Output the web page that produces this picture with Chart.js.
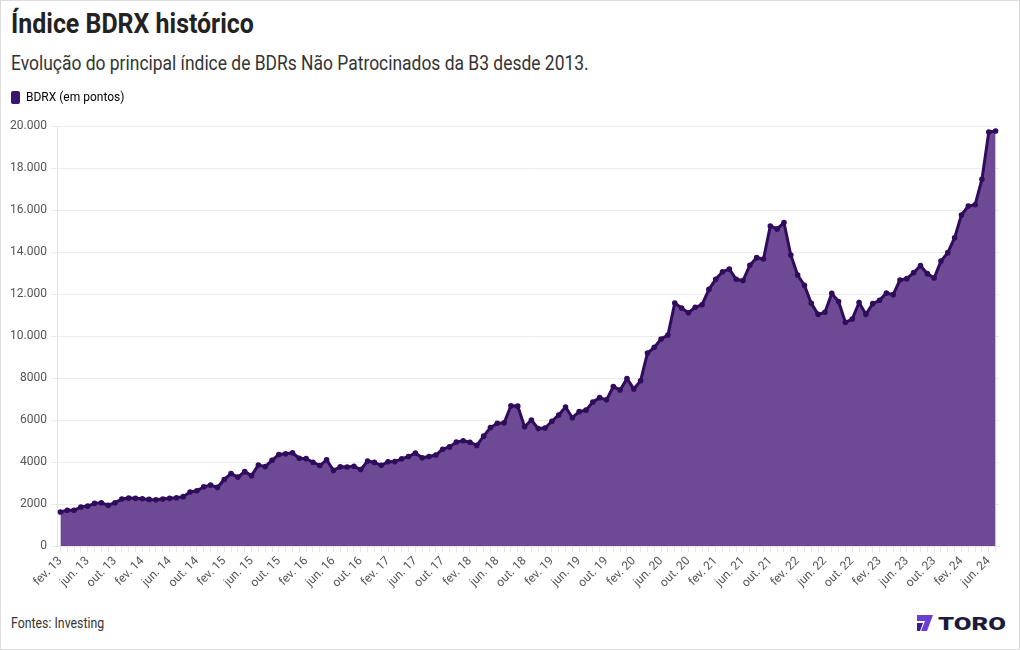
<!DOCTYPE html>
<html lang="pt-BR">
<head>
<meta charset="utf-8">
<title>Índice BDRX histórico</title>
<script src="https://cdn.jsdelivr.net/npm/chart.js@4.4.1/dist/chart.umd.min.js"></script>
<style>
  html, body { margin: 0; padding: 0; background: #fff; }
  #frame {
    position: relative; width: 1018px; height: 648px;
    border: 1px solid #dcdcdc; background: #fff; overflow: hidden;
    font-family: Roboto, "Noto Sans", sans-serif;
  }
  #title {
    position: absolute; left: 10px; top: 6px; margin: 0;
    font-size: 28px; font-weight: 700; color: #222;
    transform: scaleX(0.89); transform-origin: left top; white-space: nowrap;
  }
  #subtitle {
    position: absolute; left: 10px; top: 50px; margin: 0;
    font-size: 20px; font-weight: 400; color: #333;
    transform: scaleX(0.872); transform-origin: left top; white-space: nowrap;
  }
  #chartWrap { position: absolute; left: 0; top: 80px; width: 1010px; height: 520px; }
  #source {
    position: absolute; left: 10px; top: 614px; font-size: 14px; color: #333;
    transform: scaleX(0.88); transform-origin: left top;
  }
  #logo { position: absolute; left: 913px; top: 611px; }
</style>
</head>
<body>
<div id="frame">
  <h1 id="title">Índice BDRX histórico</h1>
  <p id="subtitle">Evolução do principal índice de BDRs Não Patrocinados da B3 desde 2013.</p>
  <div id="chartWrap"><canvas id="bdrxChart"></canvas></div>
  <div id="source">Fontes: Investing</div>
  <svg id="logo" width="95" height="22" viewBox="0 0 95 22">
    <polygon points="3,3 19,3 13,19 7,19 11,9 3,9" fill="#6a3fd0"/>
    <polygon points="3,11 9,11 6,19 3,19" fill="#3b1d8f"/>
    <text x="24" y="18" font-family="Roboto, sans-serif" font-weight="900" font-size="18" fill="#1c1c3a" textLength="68" lengthAdjust="spacingAndGlyphs">TORO</text>
  </svg>
</div>

<script>
// meses (rótulos do eixo x)
const monthNames = ['jan.', 'fev.', 'mar.', 'abr.', 'mai.', 'jun.', 'jul.', 'ago.', 'set.', 'out.', 'nov.', 'dez.'];
const startYear  = 2013;
const startMonth = 1; // fev.

// BDRX (em pontos), mensal de fev. 13 a jul. 24
const bdrx = [
  1620, 1700, 1700, 1860, 1900, 2030, 2060, 1940, 2060, 2240, 2280, 2270,
  2250, 2220, 2200, 2240, 2270, 2300, 2350, 2570, 2630, 2820, 2900, 2790,
  3170, 3450, 3280, 3540, 3350, 3860, 3780, 4080, 4360, 4390, 4440, 4180,
  4160, 3990, 3830, 4100, 3600, 3770, 3760, 3800, 3640, 4050, 3980, 3840,
  4010, 4020, 4150, 4260, 4430, 4200, 4260, 4330, 4610, 4720, 4950, 5010,
  4940, 4790, 5230, 5640, 5840, 5870, 6680, 6660, 5680, 6000, 5590, 5620,
  5940, 6240, 6620, 6110, 6400, 6470, 6860, 7065, 6960, 7590, 7430, 7970,
  7480, 7870, 9190, 9460, 9860, 10050, 11570, 11330, 11110, 11370, 11490, 12220,
  12700, 13060, 13190, 12700, 12640, 13370, 13730, 13670, 15240, 15100, 15400, 13860,
  12900, 12410, 11560, 11030, 11130, 12030, 11640, 10650, 10810, 11590, 11030, 11540,
  11700, 12050, 11970, 12670, 12730, 13020, 13350, 12970, 12760, 13570, 13970, 14680,
  15760, 16190, 16250, 17460, 19710, 19760
];

const labels = [];
for (let k = 0; k < bdrx.length; k++) {
  const m = (startMonth + k) % 12;
  const y = startYear + Math.floor((startMonth + k) / 12);
  labels.push(monthNames[m] + ' ' + String(y).slice(2));
}

const lineColor = '#2f0c5c';
const fillColor = '#6e4a94';

// 10.000 com ponto; abaixo de 10 mil sem separador
function fmtTick(v) {
  if (v >= 10000) return String(v).replace(/\B(?=(\d{3})+(?!\d))/g, '.');
  return String(v);
}

// espaço extra abaixo da legenda
const legendGap = {
  id: 'legendGap',
  beforeInit(chart) {
    const fit = chart.legend.fit;
    chart.legend.fit = function () {
      fit.bind(chart.legend)();
      this.height += 12;
    };
  }
};

new Chart(document.getElementById('bdrxChart'), {
  type: 'line',
  data: {
    labels,
    datasets: [{
      label: 'BDRX (em pontos)',
      data: bdrx,
      borderColor: lineColor,
      backgroundColor: fillColor,
      fill: 'origin',
      borderWidth: 3,
      pointRadius: 2.8,
      pointBackgroundColor: lineColor,
      pointBorderColor: lineColor,
      pointBorderWidth: 0,
      tension: 0,
    }],
  },
  options: {
    responsive: true,
    maintainAspectRatio: false,
    animation: false,
    layout: { padding: { left: 0, right: 12, top: 0, bottom: 0 } },
    plugins: {
      legend: {
        position: 'top',
        align: 'start',
        labels: {
          color: '#333',
          font: { family: 'Roboto', size: 12 },
          boxWidth: 9,
          boxHeight: 13,
          padding: 10,
          useBorderRadius: true,
          borderRadius: 2,
          generateLabels: chart => [{
            text: 'BDRX (em pontos)',
            fillStyle: '#3b1670',
            strokeStyle: '#3b1670',
            lineWidth: 0,
            borderRadius: 2,
            datasetIndex: 0,
          }],
        },
      },
      tooltip: { enabled: false },
    },
    scales: {
      x: {
        offset: true,
        grid: { display: true, drawOnChartArea: false, drawTicks: true, tickLength: 6, color: '#e6e6e6' },
        border: { display: true, color: '#e6e6e6' },
        ticks: {
          autoSkip: false,
          minRotation: 45,
          maxRotation: 45,
          color: '#555',
          font: { family: 'Roboto', size: 12 },
          padding: 2,
          callback: (v, i) => (i % 4 === 0 ? labels[i] : ''),
        },
        afterFit: s => { s.height = 55; },
      },
      y: {
        min: 0,
        max: 20000,
        ticks: {
          stepSize: 2000,
          color: '#555',
          font: { family: 'Roboto', size: 12 },
          padding: 4,
          callback: v => fmtTick(v),
        },
        grid: { color: '#ebebeb', tickLength: 6 },
        border: { display: true, color: '#e6e6e6' },
        afterFit: s => { s.width = 56; },
      },
    },
  },
  plugins: [legendGap],
});
</script>
</body>
</html>
